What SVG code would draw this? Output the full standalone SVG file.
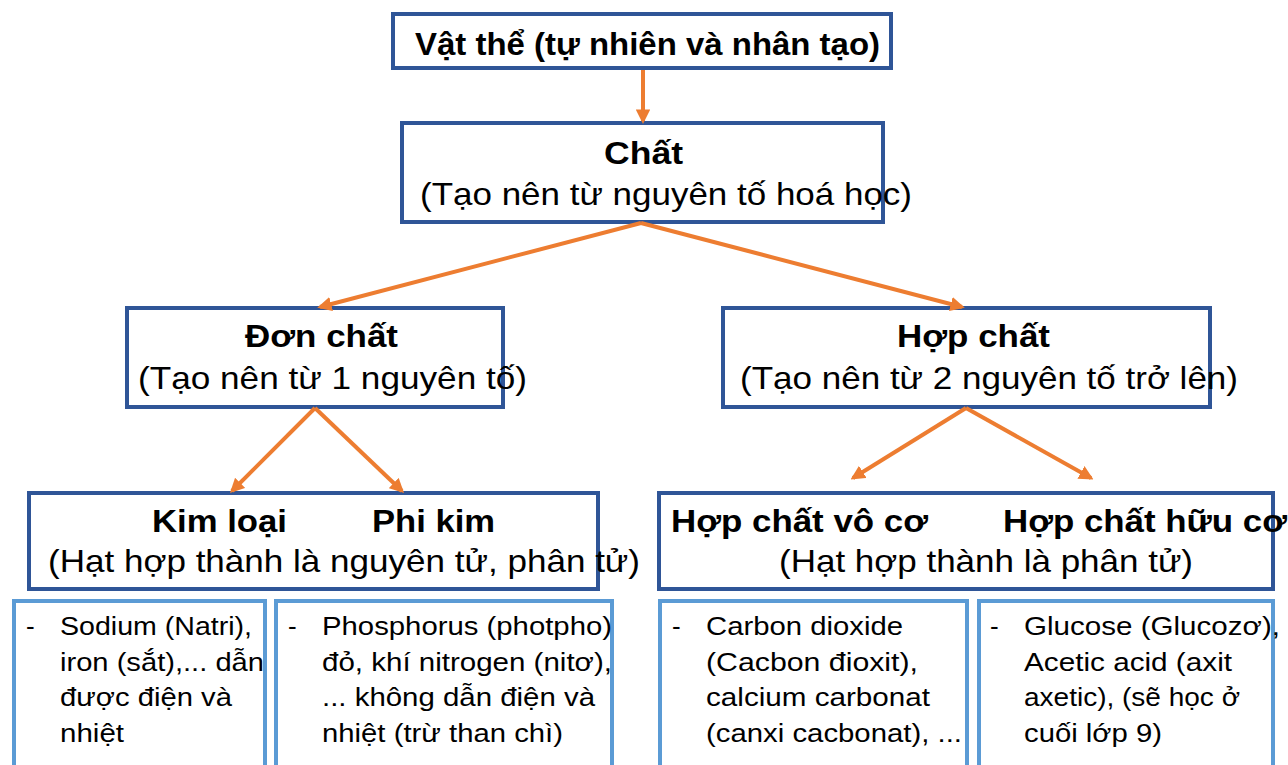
<svg xmlns="http://www.w3.org/2000/svg" width="1288" height="765" viewBox="0 0 1288 765">
<defs>
<marker id="ah" viewBox="0 0 10 10" refX="8" refY="5" markerWidth="3.6" markerHeight="3.6" orient="auto" markerUnits="strokeWidth">
<path d="M0,0 L10,5 L0,10 z" fill="#ED7D31"/>
</marker>
</defs>
<style>
.box{fill:#fff;stroke:#2F5597;stroke-width:4}
.leaf{fill:#fff;stroke:#5B9BD5;stroke-width:4}
.b{font-family:"Liberation Sans",Arial,sans-serif;font-weight:bold;font-size:32px;fill:#000}
.r{font-family:"Liberation Sans",Arial,sans-serif;font-size:32px;fill:#000}
.s{font-family:"Liberation Sans",Arial,sans-serif;font-size:26px;fill:#000}
.c{stroke:#ED7D31;stroke-width:4;fill:none;marker-end:url(#ah)}
</style>
<rect width="1288" height="765" fill="#fff"/>
<g id="n-vatthe">
<rect class="box" x="393" y="14" width="498" height="54"/>
<text class="b" x="415" y="55" textLength="465" lengthAdjust="spacingAndGlyphs">Vật thể (tự nhiên và nhân tạo)</text>
</g>
<g id="n-chat">
<rect class="box" x="402" y="123" width="481" height="99"/>
<text class="b" x="604" y="164" textLength="79" lengthAdjust="spacingAndGlyphs">Chất</text>
<text class="r" x="420" y="205" textLength="492" lengthAdjust="spacingAndGlyphs">(Tạo nên từ nguyên tố hoá học)</text>
</g>
<g id="n-donchat">
<rect class="box" x="127" y="308" width="376" height="99"/>
<text class="b" x="245" y="347" textLength="153" lengthAdjust="spacingAndGlyphs">Đơn chất</text>
<text class="r" x="138" y="389" textLength="389" lengthAdjust="spacingAndGlyphs">(Tạo nên từ 1 nguyên tố)</text>
</g>
<g id="n-hopchat">
<rect class="box" x="723" y="308" width="487" height="99"/>
<text class="b" x="897" y="347" textLength="153" lengthAdjust="spacingAndGlyphs">Hợp chất</text>
<text class="r" x="740" y="389" textLength="498" lengthAdjust="spacingAndGlyphs">(Tạo nên từ 2 nguyên tố trở lên)</text>
</g>
<g id="n-kimloai-phikim">
<rect class="box" x="29" y="493" width="569" height="96"/>
<text class="b" x="152" y="532" textLength="135" lengthAdjust="spacingAndGlyphs">Kim loại</text>
<text class="b" x="372" y="532" textLength="123" lengthAdjust="spacingAndGlyphs">Phi kim</text>
<text class="r" x="48" y="572" textLength="592" lengthAdjust="spacingAndGlyphs">(Hạt hợp thành là nguyên tử, phân tử)</text>
</g>
<g id="n-voco-huuco">
<rect class="box" x="659" y="493" width="614" height="96"/>
<text class="b" x="671" y="532" textLength="257" lengthAdjust="spacingAndGlyphs">Hợp chất vô cơ</text>
<text class="b" x="1003" y="532" textLength="284" lengthAdjust="spacingAndGlyphs">Hợp chất hữu cơ</text>
<text class="r" x="779" y="572" textLength="414" lengthAdjust="spacingAndGlyphs">(Hạt hợp thành là phân tử)</text>
</g>
<g id="n-leaf-kimloai">
<rect class="leaf" x="14" y="601" width="251" height="200"/>
<text class="s" x="26" y="635">-</text>
<text class="s" x="60" y="635" textLength="192" lengthAdjust="spacingAndGlyphs">Sodium (Natri),</text>
<text class="s" x="60" y="671" textLength="204" lengthAdjust="spacingAndGlyphs">iron (sắt),... dẫn</text>
<text class="s" x="60" y="706" textLength="172" lengthAdjust="spacingAndGlyphs">được điện và</text>
<text class="s" x="60" y="742" textLength="64" lengthAdjust="spacingAndGlyphs">nhiệt</text>
</g>
<g id="n-leaf-phikim">
<rect class="leaf" x="276" y="601" width="336" height="200"/>
<text class="s" x="288" y="635">-</text>
<text class="s" x="322" y="635" textLength="290" lengthAdjust="spacingAndGlyphs">Phosphorus (photpho)</text>
<text class="s" x="322" y="671" textLength="290" lengthAdjust="spacingAndGlyphs">đỏ, khí nitrogen (nitơ),</text>
<text class="s" x="322" y="706" textLength="273" lengthAdjust="spacingAndGlyphs">... không dẫn điện và</text>
<text class="s" x="322" y="742" textLength="241" lengthAdjust="spacingAndGlyphs">nhiệt (trừ than chì)</text>
</g>
<g id="n-leaf-voco">
<rect class="leaf" x="660" y="601" width="307" height="200"/>
<text class="s" x="672" y="635">-</text>
<text class="s" x="706" y="635" textLength="197" lengthAdjust="spacingAndGlyphs">Carbon dioxide</text>
<text class="s" x="706" y="671" textLength="212" lengthAdjust="spacingAndGlyphs">(Cacbon đioxit),</text>
<text class="s" x="706" y="706" textLength="224" lengthAdjust="spacingAndGlyphs">calcium carbonat</text>
<text class="s" x="706" y="742" textLength="256" lengthAdjust="spacingAndGlyphs">(canxi cacbonat), ...</text>
</g>
<g id="n-leaf-huuco">
<rect class="leaf" x="979" y="601" width="294" height="200"/>
<text class="s" x="990" y="635">-</text>
<text class="s" x="1024" y="635" textLength="256" lengthAdjust="spacingAndGlyphs">Glucose (Glucozơ),</text>
<text class="s" x="1024" y="671" textLength="208" lengthAdjust="spacingAndGlyphs">Acetic acid (axit</text>
<text class="s" x="1024" y="706" textLength="216" lengthAdjust="spacingAndGlyphs">axetic), (sẽ học ở</text>
<text class="s" x="1024" y="742" textLength="138" lengthAdjust="spacingAndGlyphs">cuối lớp 9)</text>
</g>
<g id="connectors">
<path class="c" d="M643,70 L643,121"/>
<path class="c" d="M641,223 L320,307"/>
<path class="c" d="M641,223 L962,307"/>
<path class="c" d="M315,408 L232,491"/>
<path class="c" d="M315,408 L402,491"/>
<path class="c" d="M966,408 L853,478"/>
<path class="c" d="M966,408 L1091,478"/>
</g>
</svg>
